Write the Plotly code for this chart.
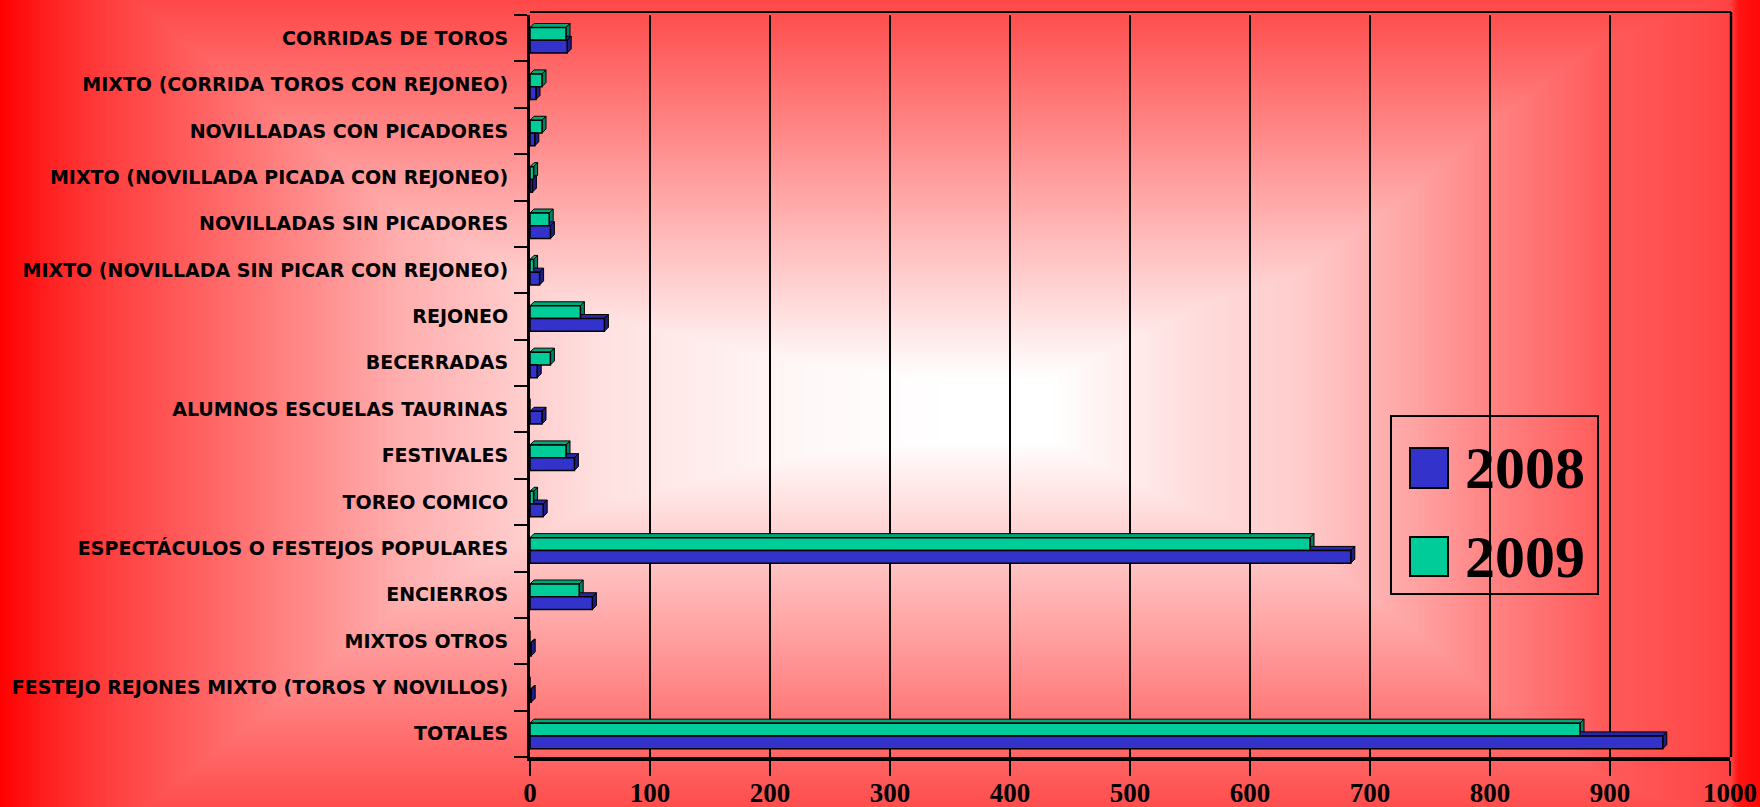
import base64, struct, zlib
import numpy as np
import plotly.graph_objects as go

# ---------------- data ----------------
categories = [
    "CORRIDAS DE TOROS",
    "MIXTO (CORRIDA TOROS CON REJONEO)",
    "NOVILLADAS CON PICADORES",
    "MIXTO (NOVILLADA PICADA CON REJONEO)",
    "NOVILLADAS SIN PICADORES",
    "MIXTO (NOVILLADA SIN PICAR CON REJONEO)",
    "REJONEO",
    "BECERRADAS",
    "ALUMNOS ESCUELAS TAURINAS",
    "FESTIVALES",
    "TOREO COMICO",
    "ESPECTÁCULOS O FESTEJOS POPULARES",
    "ENCIERROS",
    "MIXTOS OTROS",
    "FESTEJO REJONES MIXTO (TOROS Y NOVILLOS)",
    "TOTALES",
]
values_2008 = [31, 5, 4, 2, 17, 8, 62, 6, 10, 37, 11, 684, 52, 1, 1, 944]
values_2009 = [30, 10, 10, 3, 16, 3, 42, 17, 0, 30, 3, 650, 41, 0, 0, 875]
series_names = ["2008", "2009"]
x_ticks = [0, 100, 200, 300, 400, 500, 600, 700, 800, 900, 1000]

# ---------------- figure geometry / style ----------------
W, H = 1760, 807
X0, X1 = 530, 1730          # pixel of x=0 and x=1000
YT, YB = 15, 757            # pixel top / bottom of category band area

COL_2008 = "#3333CC"
COL_2009 = "#00CC99"
TOP_2008, SIDE_2008 = "#2828A6", "#1E1E86"
TOP_2009, SIDE_2009 = "#00A87E", "#008262"

# ---------------- background gradient image ----------------
FX_X = [0, 50, 100, 200, 300, 400, 500, 600, 800, 950, 1050, 1200, 1300, 1400, 1500, 1600, 1700, 1731, 1738, 1760]
FX_S = [1.0, 0.87, 0.77, 0.62, 0.47, 0.32, 0.22, 0.12, 0.03, 0.0, 0.0, 0.14, 0.20, 0.34, 0.50, 0.64, 0.71, 0.74, 0.92, 0.97]
FY_Y = [0, 380, 440, 807]
FY_S = [0.72, 0.0, 0.0, 0.70]

xs = np.arange(W) + 0.5
ys = np.arange(H) + 0.5
s = np.maximum(np.interp(xs, FX_X, FX_S)[None, :], np.interp(ys, FY_Y, FY_S)[:, None])
gb = np.round(255 * (1 - s)).astype(np.int16)
img = np.stack([np.full_like(gb, 255), gb, gb], axis=2)
sub = img.copy()
sub[:, 1:, :] = (img[:, 1:, :] - img[:, :-1, :]) % 256
sub = sub.astype(np.uint8).reshape(H, W * 3)
raw = np.hstack([np.ones((H, 1), np.uint8), sub]).tobytes()


def _chunk(t, d):
    c = struct.pack(">I", len(d)) + t + d
    return c + struct.pack(">I", zlib.crc32(t + d) & 0xFFFFFFFF)


png = (b"\x89PNG\r\n\x1a\n" + _chunk(b"IHDR", struct.pack(">IIBBBBB", W, H, 8, 2, 0, 0, 0))
       + _chunk(b"IDAT", zlib.compress(raw, 9)) + _chunk(b"IEND", b""))
bg_uri = "data:image/png;base64," + base64.b64encode(png).decode()

# ---------------- traces ----------------
idx = list(range(len(categories)))
BAR_W = 0.275
OFF_2009 = -0.23
OFF_2008 = OFF_2009 + BAR_W

fig = go.Figure()
fig.add_trace(go.Bar(
    y=idx, x=values_2009, orientation="h", name=series_names[1],
    offset=OFF_2009, width=BAR_W,
    marker=dict(color=COL_2009, line=dict(color="black", width=1.5)),
    showlegend=False, hoverinfo="x+name"))
fig.add_trace(go.Bar(
    y=idx, x=values_2008, orientation="h", name=series_names[0],
    offset=OFF_2008, width=BAR_W,
    marker=dict(color=COL_2008, line=dict(color="black", width=1.5)),
    showlegend=False, hoverinfo="x+name"))

# 3D depth faces derived from the data
units_per_px_x = 1000 / (X1 - X0)
units_per_px_y = len(categories) / (YB - YT)
DX = 4 * units_per_px_x
DY = 4 * units_per_px_y
shapes = []
for vals, off, ctop, cside in [(values_2009, OFF_2009, TOP_2009, SIDE_2009),
                               (values_2008, OFF_2008, TOP_2008, SIDE_2008)]:
    for i, v in zip(idx, vals):
        if v <= 0:
            continue
        yt = i + off
        yb = yt + BAR_W
        top = f"M 0,{yt} L {DX},{yt-DY} L {v+DX},{yt-DY} L {v},{yt} Z"
        side = f"M {v},{yt} L {v+DX},{yt-DY} L {v+DX},{yb-DY} L {v},{yb} Z"
        for p, c in [(top, ctop), (side, cside)]:
            shapes.append(dict(type="path", path=p, xref="x", yref="y", fillcolor=c,
                               line=dict(color="black", width=1), layer="between"))


def px_x(p):
    return p / W


def px_y(p):
    return 1 - p / H


# plot box (top & right)
shapes.append(dict(type="line", xref="paper", yref="paper", x0=px_x(X0), x1=px_x(X1 + 1),
                   y0=px_y(12), y1=px_y(12), line=dict(color="black", width=2), layer="above"))
shapes.append(dict(type="line", xref="paper", yref="paper", x0=px_x(X1 + 1), x1=px_x(X1 + 1),
                   y0=px_y(12), y1=px_y(YB), line=dict(color="black", width=2.5), layer="above"))

# legend (box, swatches, labels)
shapes.append(dict(type="rect", xref="paper", yref="paper", x0=px_x(1391), x1=px_x(1598),
                   y0=px_y(416), y1=px_y(594), line=dict(color="black", width=2),
                   fillcolor="rgba(0,0,0,0)", layer="above"))
annotations = []
for name, col, (ya, yb), yc in [(series_names[0], COL_2008, (448, 488), 468),
                                (series_names[1], COL_2009, (537, 576), 557)]:
    shapes.append(dict(type="rect", xref="paper", yref="paper", x0=px_x(1410), x1=px_x(1448),
                       y0=px_y(ya), y1=px_y(yb), fillcolor=col,
                       line=dict(color="black", width=2), layer="above"))
    annotations.append(dict(text=f"<b>{name}</b>", xref="paper", yref="paper", x=px_x(1463),
                            y=px_y(yc), xanchor="left", yanchor="middle", showarrow=False,
                            font=dict(family="Liberation Serif", size=60, color="black")))

fig.update_layout(
    width=W, height=H, autosize=False, margin=dict(l=0, r=0, t=0, b=0, pad=0),
    paper_bgcolor="#FF3030", plot_bgcolor="rgba(0,0,0,0)",
    barmode="overlay", showlegend=False,
    images=[dict(source=bg_uri, xref="paper", yref="paper", x=0, y=1, sizex=1, sizey=1,
                 sizing="stretch", layer="below", xanchor="left", yanchor="top")],
    shapes=shapes, annotations=annotations,
    xaxis=dict(
        domain=[px_x(X0), px_x(X1)], range=[x_ticks[0], x_ticks[-1]], automargin=False,
        tickmode="array", tickvals=x_ticks, ticktext=[str(t) for t in x_ticks],
        ticks="outside", ticklen=15, tickwidth=2, tickcolor="black",
        showgrid=True, gridcolor="black", gridwidth=1.5, zeroline=False,
        showline=True, linecolor="black", linewidth=4, ticklabeloverflow="allow",
        tickfont=dict(family="Liberation Serif", size=27, color="black", weight="bold"),
        ticklabelstandoff=-6, fixedrange=True,
    ),
    yaxis=dict(
        domain=[px_y(YB), px_y(YT)], range=[len(categories) - 0.5, -0.5], automargin=False,
        tickmode="array", tickvals=idx, ticktext=categories,
        ticks="outside", ticklen=13, tickcolor="rgba(0,0,0,0)",
        minor=dict(tickmode="array", tickvals=[i - 0.5 for i in range(len(categories) + 1)],
                   ticks="outside", ticklen=13, tickwidth=2, tickcolor="black", showgrid=False),
        showgrid=False, zeroline=False,
        showline=True, linecolor="black", linewidth=3, ticklabeloverflow="allow",
        tickfont=dict(family="DejaVu Sans", size=19, color="black", weight="bold"),
        ticklabelstandoff=2, fixedrange=True,
    ),
)

fig.write_html(
    "out.html", config={"displayModeBar": False, "responsive": False},
    post_script="document.documentElement.style.overflow='hidden';"
                "document.body.style.margin='0';document.body.style.overflow='hidden';"
                "document.body.style.background='#FF3030';")
